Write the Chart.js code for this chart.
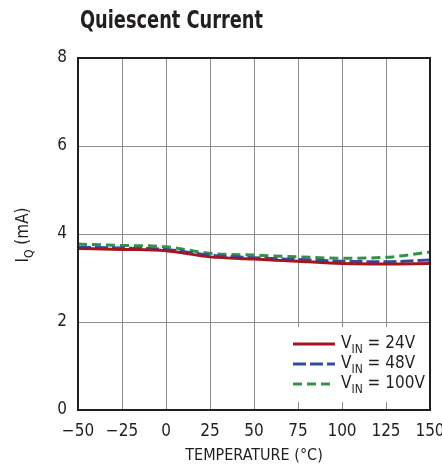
<!DOCTYPE html>
<html>
<head>
<meta charset="utf-8">
<script src="https://cdn.jsdelivr.net/npm/chart.js@4"></script>
<style>
  body { margin: 0; background: #fff; }
  #wrap { width: 442px; height: 465px; }
</style>
</head>
<body>
<div id="wrap"><canvas id="myChart" width="442" height="465"></canvas></div>
<script>
const FONT = "'Liberation Sans Narrow', 'DejaVu Sans Condensed', 'Roboto', sans-serif";

// data
const temps = [-50, -25, 0, 25, 50, 75, 100, 125, 150];
const iq24 = [3.67, 3.65, 3.62, 3.48, 3.43, 3.38, 3.33, 3.32, 3.33];
const iq48 = [3.70, 3.68, 3.65, 3.52, 3.46, 3.42, 3.38, 3.37, 3.41];
const iq100 = [3.77, 3.74, 3.71, 3.56, 3.52, 3.48, 3.45, 3.47, 3.59];
const seriesNames = ['24V', '48V', '100V'];
const seriesColors = ['#a3161f', '#2f4ea3', '#349247'];
const seriesDash = [[], [13, 4], [9, 5]];
const xTickLabels = ['\u221250', '\u221225', '0', '25', '50', '75', '100', '125', '150'];

function toPoints(ys) {
    let pts = [];
    for (let i = 0; i < temps.length; i++) {
        pts.push({ x: temps[i], y: ys[i] });
    }
    return pts;
}

const allSeries = [iq24, iq48, iq100];
let datasets = [];
for (let i = 0; i < allSeries.length; i++) {
    datasets.push({
        label: 'VIN = ' + seriesNames[i],
        data: toPoints(allSeries[i]),
        borderColor: seriesColors[i],
        borderDash: seriesDash[i],
        borderWidth: 3,
        pointRadius: 0,
        cubicInterpolationMode: 'monotone',
        fill: false
    });
}

// title, y title, frame and legend drawn by hand
const extras = {
    id: 'extras',
    afterDraw(chart) {
        const ctx = chart.ctx;
        const a = chart.chartArea;
        ctx.save();

        // frame
        ctx.strokeStyle = '#231f20';
        ctx.lineWidth = 2;
        ctx.strokeRect(a.left, a.top, a.right - a.left, a.bottom - a.top);

        // title (squeezed to look condensed)
        ctx.fillStyle = '#231f20';
        ctx.textBaseline = 'middle';
        ctx.textAlign = 'left';
        ctx.save();
        ctx.font = 'bold 24px ' + FONT;
        const tw = ctx.measureText('Quiescent Current').width;
        ctx.translate(80, 22);
        ctx.scale(183 / tw, 1);
        ctx.fillText('Quiescent Current', 0, 0);
        ctx.restore();

        // y axis title  I_Q (mA)
        ctx.save();
        ctx.translate(24, 235);
        ctx.rotate(-Math.PI / 2);
        ctx.font = '17px ' + FONT;
        const w1 = ctx.measureText('I').width;
        ctx.font = '12px ' + FONT;
        const w2 = ctx.measureText('Q').width;
        ctx.font = '17px ' + FONT;
        const w3 = ctx.measureText(' (mA)').width;
        let x0 = -(w1 + w2 + w3) / 2;
        ctx.fillText('I', x0, 0);
        ctx.font = '12px ' + FONT;
        ctx.fillText('Q', x0 + w1, 6);
        ctx.font = '17px ' + FONT;
        ctx.fillText(' (mA)', x0 + w1 + w2, 0);
        ctx.restore();

        // legend
        ctx.fillStyle = '#fff';
        ctx.fillRect(285, 327, 143, 75);
        for (let i = 0; i < seriesNames.length; i++) {
            const y = 344 + i * 20;
            ctx.strokeStyle = seriesColors[i];
            ctx.lineWidth = 3;
            ctx.setLineDash(seriesDash[i]);
            ctx.beginPath();
            ctx.moveTo(293, y);
            ctx.lineTo(335, y);
            ctx.stroke();
            ctx.setLineDash([]);
            ctx.fillStyle = '#231f20';
            ctx.font = '17px ' + FONT;
            ctx.fillText('V', 341, y);
            const vw = ctx.measureText('V').width;
            ctx.font = '12px ' + FONT;
            ctx.fillText('IN', 341 + vw, y + 6);
            const iw = ctx.measureText('IN').width;
            ctx.font = '17px ' + FONT;
            ctx.fillText(' = ' + seriesNames[i], 341 + vw + iw, y);
        }
        ctx.restore();
    }
};

var ctx = document.getElementById('myChart').getContext('2d');
var chart = new Chart(ctx, {
    type: 'line',
    data: { datasets: datasets },
    plugins: [extras],
    options: {
        responsive: false,
        animation: false,
        layout: { padding: { top: 58, right: 12, left: 0, bottom: 0 } },
        plugins: {
            legend: { display: false },
            tooltip: { enabled: false }
        },
        scales: {
            x: {
                type: 'linear',
                min: -50,
                max: 150,
                ticks: {
                    stepSize: 25,
                    color: '#231f20',
                    font: { family: FONT, size: 17 },
                    padding: 11,
                    maxRotation: 0,
                    callback: function (v) {
                        const i = temps.indexOf(v);
                        return i >= 0 ? xTickLabels[i] : '';
                    }
                },
                grid: { color: '#8c8c8c', lineWidth: 1, drawTicks: false },
                border: { display: false },
                title: {
                    display: true,
                    text: 'TEMPERATURE (°C)',
                    color: '#231f20',
                    font: { family: FONT, size: 16 },
                    padding: { top: 2, bottom: 0 }
                },
                afterFit: function (scale) {
                    scale.height = 55;
                    scale.paddingLeft = 0;
                    scale.paddingRight = 0;
                }
            },
            y: {
                min: 0,
                max: 8,
                ticks: {
                    stepSize: 2,
                    color: '#231f20',
                    font: { family: FONT, size: 17 },
                    padding: 11
                },
                grid: { color: '#8c8c8c', lineWidth: 1, drawTicks: false },
                border: { display: false },
                afterFit: function (scale) { scale.width = 78; }
            }
        }
    }
});
</script>
</body>
</html>
